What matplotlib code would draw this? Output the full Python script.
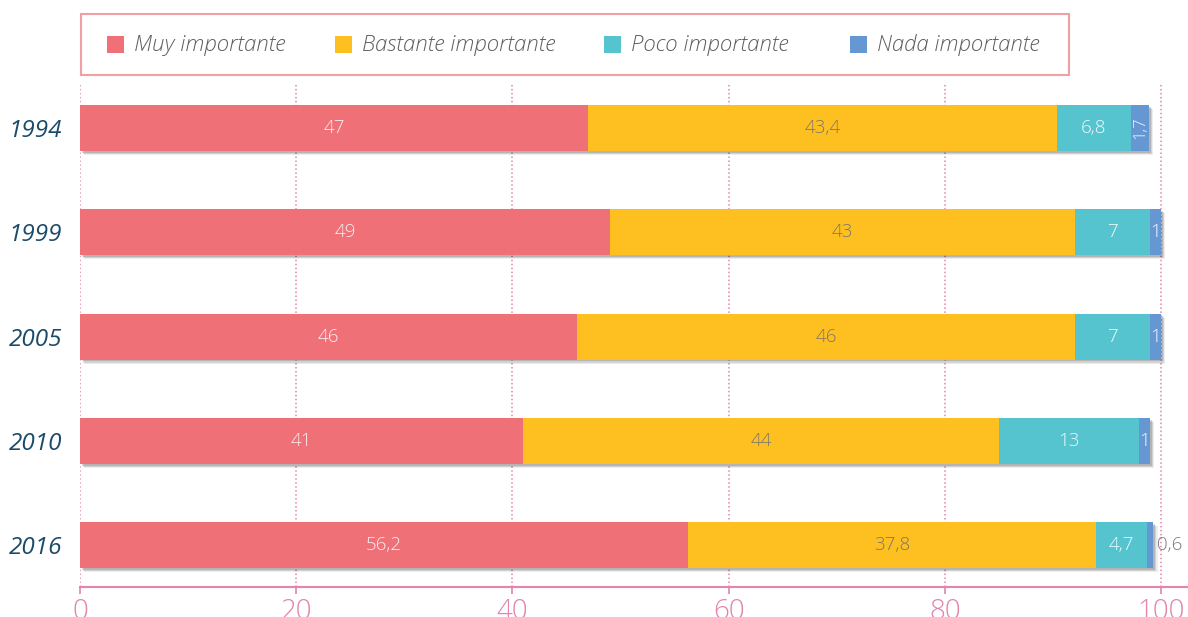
import matplotlib.pyplot as plt
import matplotlib.patheffects as pe
from matplotlib.patches import Rectangle

# survey data: share of answers per year (%)
years = ['1994', '1999', '2005', '2010', '2016']
categories = ['Muy importante', 'Bastante importante', 'Poco importante', 'Nada importante']
muy = [47, 49, 46, 41, 56.2]
bastante = [43.4, 43, 46, 44, 37.8]
poco = [6.8, 7, 7, 13, 4.7]
nada = [1.7, 1, 1, 1, 0.6]
series = [muy, bastante, poco, nada]
xticks = [0, 20, 40, 60, 80, 100]

colors = ['#f07078', '#fdc020', '#55c4cf', '#6598d2']
text_colors = ['#fbeef0', '#7f7769', '#effafb', '#f3f7fc']
pink = '#e284ad'
year_color = '#1b4b6b'

plt.rcParams['font.family'] = ['Open Sans', 'DejaVu Sans']

W, H = 1188, 617
fig = plt.figure(figsize=(W / 100, H / 100), dpi=100)
ax = fig.add_axes([80 / W, 1 - 587 / H, (W - 80) / W, (587 - 83) / H])


def fmt(v):
    return f'{v:g}'.replace('.', ',')


shadow = [pe.SimplePatchShadow(offset=(3.0, -3.0), shadow_rgbFace='k', alpha=0.07),
          pe.SimplePatchShadow(offset=(2.2, -2.2), shadow_rgbFace='k', alpha=0.11),
          pe.SimplePatchShadow(offset=(1.4, -1.4), shadow_rgbFace='k', alpha=0.14),
          pe.Normal()]

ypos = list(range(len(years)))
left = [0.0] * len(years)
for k, vals in enumerate(series):
    bars = ax.barh(ypos, vals, left=left, height=0.44, color=colors[k],
                   zorder=3, label=categories[k])
    for b in bars:
        b.set_path_effects(shadow)
    for i, v in enumerate(vals):
        cx = left[i] + v / 2
        if k < 3:
            ax.text(cx, i, fmt(v), ha='center', va='center', fontsize=13.5,
                    fontweight='light', color=text_colors[k], zorder=5)
        elif v >= 1.5:
            ax.text(cx, i, fmt(v), ha='center', va='center', fontsize=12,
                    rotation=90, fontweight='light', color=text_colors[k], zorder=5)
        elif v >= 1:
            ax.text(cx, i, fmt(v), ha='center', va='center', fontsize=13.5,
                    fontweight='light', color=text_colors[k], zorder=5)
        else:
            ax.text(left[i] + v + 0.3, i, fmt(v), ha='left', va='center',
                    fontsize=13.5, fontweight='light', color='#7a7a7a', zorder=5)
    left = [l + v for l, v in zip(left, vals)]

ax.set_xlim(0, (W - 80) / 10.81)
ax.set_ylim(4.40, -0.43)
ax.set_xticks(xticks)
ax.set_yticks(ypos)
ax.set_yticklabels(years, fontsize=17.5, style='italic', color=year_color)
ax.tick_params(axis='y', length=0, pad=13)
ax.tick_params(axis='x', length=5, width=1.2, color=pink, labelcolor=pink,
               labelsize=20, pad=3)
for lab in ax.get_xticklabels():
    lab.set_fontweight('light')

ax.grid(axis='x', color=pink, linestyle=(0, (1, 1.6)), linewidth=1.1, zorder=0)
ax.set_axisbelow(True)
for s in ['top', 'right', 'left']:
    ax.spines[s].set_visible(False)
ax.spines['bottom'].set_color(pink)
ax.spines['bottom'].set_linewidth(1.5)


# legend box drawn in figure pixels
def fx(x):
    return x / W


def fy(y):
    return 1 - y / H


fig.add_artist(Rectangle((fx(81), fy(75)), fx(1069) - fx(81), fy(14) - fy(75),
                         transform=fig.transFigure, facecolor='white',
                         edgecolor='#f0a0a4', linewidth=1.5))
handle_x = [107, 335, 604, 850]
for hx, name, c in zip(handle_x, categories, colors):
    fig.add_artist(Rectangle((fx(hx), fy(53)), fx(17), 17 / H,
                             transform=fig.transFigure, facecolor=c, edgecolor='none'))
    fig.text(fx(hx + 27), fy(45), name, ha='left', va='center', fontsize=16,
             style='italic', fontweight='light', color='#5e5e5e')

fig.savefig('out.png', dpi=100, facecolor='white')
